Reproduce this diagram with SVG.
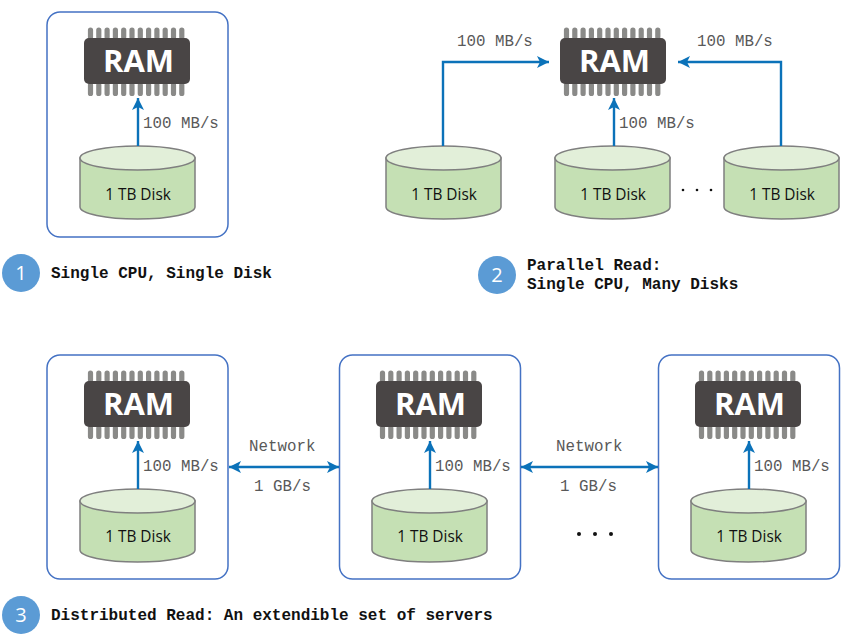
<svg xmlns="http://www.w3.org/2000/svg" width="846" height="639" viewBox="0 0 846 639">
<style>
.box{fill:#fff;stroke:#4472c4;stroke-width:1.5}
.chip{fill:#494545}
.pins{stroke:#8a8a88;stroke-width:5.2;stroke-linecap:round;fill:none}
.ramt{font:bold 31px "Open Sans",sans-serif;fill:#fff;text-anchor:middle}
.dside{fill:#c5e0b4;stroke:#7f7f7f;stroke-width:1.5}
.dtop{fill:#e2efd9;stroke:#7f7f7f;stroke-width:1.5}
.dt{font:15.4px "Open Sans",sans-serif;fill:#111;text-anchor:middle}
.m{font:15.8px "Liberation Mono",monospace;fill:#595959}
.b{font:bold 16px "Liberation Mono",monospace;fill:#111}
.c{fill:#5b9bd5}
.n{font:20px "Open Sans",sans-serif;fill:#fff;text-anchor:middle}
.l{fill:none;stroke:#0b72b9;stroke-width:2.4}
.d{fill:#111}
</style>
<defs>
<marker id="a" markerUnits="userSpaceOnUse" markerWidth="13" markerHeight="12" refX="12" refY="6" orient="auto-start-reverse"><path d="M0 0L12 6L0 12L3 6Z" fill="#0b72b9"/></marker>
<g id="pinset"><path class="pins" d="M90.500 30V37M98.800 30V37M107.100 30V37M115.400 30V37M123.700 30V37M132 30V37M140.300 30V37M148.600 30V37M156.900 30V37M165.200 30V37M173.500 30V37M181.800 30V37M90.500 85V93.500M98.800 85V93.500M107.100 85V93.500M115.400 85V93.500M123.700 85V93.500M132 85V93.500M140.300 85V93.500M148.600 85V93.500M156.900 85V93.500M165.200 85V93.500M173.500 85V93.500M181.800 85V93.500"/><rect class="chip" x="84" y="38" width="106" height="46" rx="5"/></g>
<g id="diskshape"><path class="dside" d="M80 158V207C80 213.600 105.700 219 137.500 219S195 213.600 195 207V158Z"/><ellipse class="dtop" cx="137.500" cy="158" rx="57.500" ry="12"/></g>
</defs>
<g id="server-1">
<rect class="box" x="47" y="12" width="181" height="225" rx="13"/>
<use href="#pinset"/><text class="ramt" x="138.500" y="72">RAM</text>
<use href="#diskshape"/><text class="dt" x="138" y="200">1 TB Disk</text>
<text class="m" x="143" y="128">100 MB/s</text>
</g>
<g id="ram-2">
<use href="#pinset" x="476"/><text class="ramt" x="614.500" y="72">RAM</text>
<text class="m" x="457" y="46">100 MB/s</text>
<text class="m" x="697" y="46">100 MB/s</text>
<text class="m" x="619" y="128">100 MB/s</text>
</g>
<g id="disk-2a"><use href="#diskshape" x="306"/><text class="dt" x="444" y="200">1 TB Disk</text></g>
<g id="disk-2b"><use href="#diskshape" x="475"/><text class="dt" x="613" y="200">1 TB Disk</text></g>
<g id="disk-2c"><use href="#diskshape" x="644"/><text class="dt" x="782" y="200">1 TB Disk</text></g>
<g id="dots-2"><circle class="d" cx="683" cy="190" r="1.300"/><circle class="d" cx="697" cy="190" r="1.300"/><circle class="d" cx="711" cy="190" r="1.300"/></g>
<g id="server-3a">
<rect class="box" x="47" y="355" width="181" height="224" rx="13"/>
<use href="#pinset" y="343"/><text class="ramt" x="138.500" y="415">RAM</text>
<use href="#diskshape" y="343"/><text class="dt" x="138" y="542">1 TB Disk</text>
<text class="m" x="143" y="471">100 MB/s</text>
</g>
<g id="server-3b">
<rect class="box" x="339.500" y="355" width="181" height="224" rx="13"/>
<use href="#pinset" x="292" y="343"/><text class="ramt" x="430.500" y="415">RAM</text>
<use href="#diskshape" x="292" y="343"/><text class="dt" x="430" y="542">1 TB Disk</text>
<text class="m" x="435" y="471">100 MB/s</text>
</g>
<g id="server-3c">
<rect class="box" x="658.500" y="355" width="181" height="224" rx="13"/>
<use href="#pinset" x="611" y="343"/><text class="ramt" x="749.500" y="415">RAM</text>
<use href="#diskshape" x="611" y="343"/><text class="dt" x="749" y="542">1 TB Disk</text>
<text class="m" x="754" y="471">100 MB/s</text>
</g>
<g id="connectors">
<path class="l" marker-end="url(#a)" d="M138 146V98"/>
<path class="l" marker-end="url(#a)" d="M614 146V98"/>
<path class="l" marker-end="url(#a)" d="M443 146V62H549"/>
<path class="l" marker-end="url(#a)" d="M781 146V62H678"/>
<path class="l" marker-end="url(#a)" d="M138 489V441"/>
<path class="l" marker-end="url(#a)" d="M430 489V441"/>
<path class="l" marker-end="url(#a)" d="M749 489V441"/>
<path class="l" marker-start="url(#a)" marker-end="url(#a)" d="M229 467H339"/>
<path class="l" marker-start="url(#a)" marker-end="url(#a)" d="M521 467H658"/>
</g>
<g id="net-labels">
<text class="m" x="249" y="451">Network</text>
<text class="m" x="254" y="491">1 GB/s</text>
<text class="m" x="556" y="451">Network</text>
<text class="m" x="560" y="491">1 GB/s</text>
<circle class="d" cx="579" cy="534" r="2"/><circle class="d" cx="595" cy="534" r="2"/><circle class="d" cx="611" cy="534" r="2"/>
</g>
<g id="badge-1"><circle class="c" cx="21" cy="273" r="19"/><text class="n" x="21" y="280">1</text><text class="b" x="51" y="278">Single CPU, Single Disk</text></g>
<g id="badge-2"><circle class="c" cx="497" cy="275" r="19"/><text class="n" x="497" y="282">2</text><text class="b" x="527" y="270">Parallel Read:</text><text class="b" x="527" y="289">Single CPU, Many Disks</text></g>
<g id="badge-3"><circle class="c" cx="21" cy="615" r="19"/><text class="n" x="21" y="622">3</text><text class="b" x="51" y="620">Distributed Read: An extendible set of servers</text></g>
</svg>
